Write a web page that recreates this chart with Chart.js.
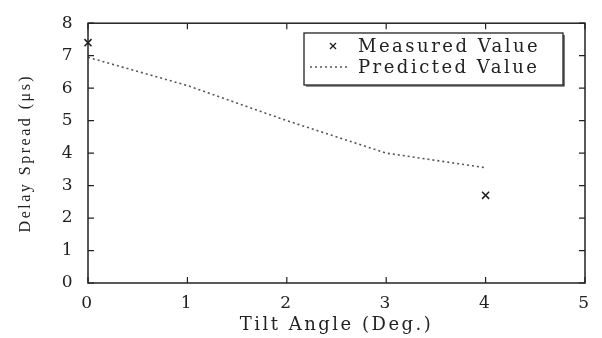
<!DOCTYPE html>
<html>
<head>
<meta charset="utf-8">
<script src="https://cdn.jsdelivr.net/npm/chart.js@4"></script>
<style>
  html, body { margin: 0; padding: 0; background: #fff; }
  #wrap { width: 602px; height: 338px; }
</style>
</head>
<body>
<div id="wrap"><canvas id="myChart" width="602" height="338"></canvas></div>
<script>
// data
var measuredX = [0, 4];
var measuredY = [7.4, 2.7];
var predictedX = [0, 1, 2, 3, 4];
var predictedY = [6.95, 6.08, 5.0, 4.0, 3.55];
var xTicks = [0, 1, 2, 3, 4, 5];
var yTicks = [0, 1, 2, 3, 4, 5, 6, 7, 8];

var ink = '#222';
var bookFont = "'DejaVu Serif', serif";
var timesFont = "'Liberation Serif', 'Times New Roman', serif";

function pts(xs, ys) {
  return xs.map(function (x, i) { return { x: x, y: ys[i] }; });
}

// the scanned type is set wide, so space the letters out a bit
var wideText = {
  id: 'wideText',
  beforeDraw: function (chart) { chart.ctx.letterSpacing = '2.5px'; }
};

// ticks pointing inward on all four sides, plus the frame
var frameTicks = {
  id: 'frameTicks',
  afterDatasetsDraw: function (chart) {
    var ctx = chart.ctx, a = chart.chartArea;
    var sx = chart.scales.x, sy = chart.scales.y;
    var len = 6;
    ctx.save();
    ctx.strokeStyle = ink;
    ctx.lineWidth = 1.5;
    ctx.strokeRect(a.left, a.top, a.right - a.left, a.bottom - a.top);
    ctx.lineWidth = 1.2;
    ctx.beginPath();
    xTicks.forEach(function (v) {
      var px = sx.getPixelForValue(v);
      ctx.moveTo(px, a.bottom); ctx.lineTo(px, a.bottom - len);
      ctx.moveTo(px, a.top); ctx.lineTo(px, a.top + len);
    });
    yTicks.forEach(function (v) {
      var py = sy.getPixelForValue(v);
      ctx.moveTo(a.left, py); ctx.lineTo(a.left + len, py);
      ctx.moveTo(a.right, py); ctx.lineTo(a.right - len, py);
    });
    ctx.stroke();
    ctx.restore();
  }
};

// boxed legend inside the plot, top right
var boxLegend = {
  id: 'boxLegend',
  afterDraw: function (chart) {
    var ctx = chart.ctx;
    var ds = chart.data.datasets;
    var bx = 304, by = 33, bw = 259, bh = 52;
    ctx.save();
    ctx.fillStyle = '#fff';
    ctx.fillRect(bx, by, bw, bh);
    ctx.strokeStyle = ink;
    ctx.lineWidth = 1.3;
    ctx.strokeRect(bx, by, bw, bh);
    // slight shadow on the right and bottom edges
    ctx.lineWidth = 1.2;
    ctx.beginPath();
    ctx.moveTo(bx + bw + 1, by + 2); ctx.lineTo(bx + bw + 1, by + bh + 1); ctx.lineTo(bx + 2, by + bh + 1);
    ctx.stroke();

    ctx.font = '18px ' + bookFont;
    ctx.letterSpacing = '2.5px';
    ctx.fillStyle = ink;
    ctx.textBaseline = 'middle';
    var r1 = by + 13, r2 = by + 34;
    // row 1: cross marker
    ctx.lineWidth = 1.4;
    ctx.beginPath();
    ctx.moveTo(330, r1 - 3); ctx.lineTo(336, r1 + 3);
    ctx.moveTo(336, r1 - 3); ctx.lineTo(330, r1 + 3);
    ctx.stroke();
    ctx.fillText(ds[0].label, 358, r1 + 1);
    // row 2: dotted line
    ctx.strokeStyle = '#555';
    ctx.lineWidth = 1.6;
    ctx.setLineDash([2, 3]);
    ctx.beginPath();
    ctx.moveTo(310, r2); ctx.lineTo(348, r2);
    ctx.stroke();
    ctx.setLineDash([]);
    ctx.fillText(ds[1].label, 358, r2 + 1);
    ctx.restore();
  }
};

var ctx = document.getElementById('myChart');
var myChart = new Chart(ctx, {
  type: 'scatter',
  data: {
    datasets: [{
      label: 'Measured Value',
      data: pts(measuredX, measuredY),
      pointStyle: 'crossRot',
      pointRadius: 5,
      borderColor: ink,
      borderWidth: 1.6,
      showLine: false,
      clip: false
    }, {
      label: 'Predicted Value',
      data: pts(predictedX, predictedY),
      showLine: true,
      pointRadius: 0,
      borderColor: '#555',
      borderWidth: 1.6,
      borderDash: [2, 3],
      clip: false
    }]
  },
  options: {
    responsive: false,
    animation: false,
    layout: { padding: { top: 18, right: 17, bottom: 2, left: 16 } },
    plugins: { legend: { display: false }, tooltip: { enabled: false } },
    scales: {
      x: {
        type: 'linear', min: 0, max: 5,
        afterBuildTicks: function (s) { s.ticks = xTicks.map(function (v) { return { value: v }; }); },
        afterFit: function (s) { s.height = 53; },
        grid: { display: false, drawTicks: false },
        border: { display: false },
        ticks: { padding: 10, color: ink, font: { family: bookFont, size: 17 } },
        title: { display: true, text: 'Tilt Angle (Deg.)', color: ink, padding: { top: 0, bottom: 0 },
                 font: { family: bookFont, size: 18 } }
      },
      y: {
        type: 'linear', min: 0, max: 8,
        afterBuildTicks: function (s) { s.ticks = yTicks.map(function (v) { return { value: v }; }); },
        afterFit: function (s) { s.width = 72; },
        grid: { display: false, drawTicks: false },
        border: { display: false },
        ticks: { padding: 13, color: ink, font: { family: bookFont, size: 17 } },
        title: { display: true, text: 'Delay Spread (μs)', color: ink, padding: { top: 0, bottom: 8 },
                 font: { family: timesFont, size: 16 } }
      }
    }
  },
  plugins: [wideText, frameTicks, boxLegend]
});
</script>
</body>
</html>
